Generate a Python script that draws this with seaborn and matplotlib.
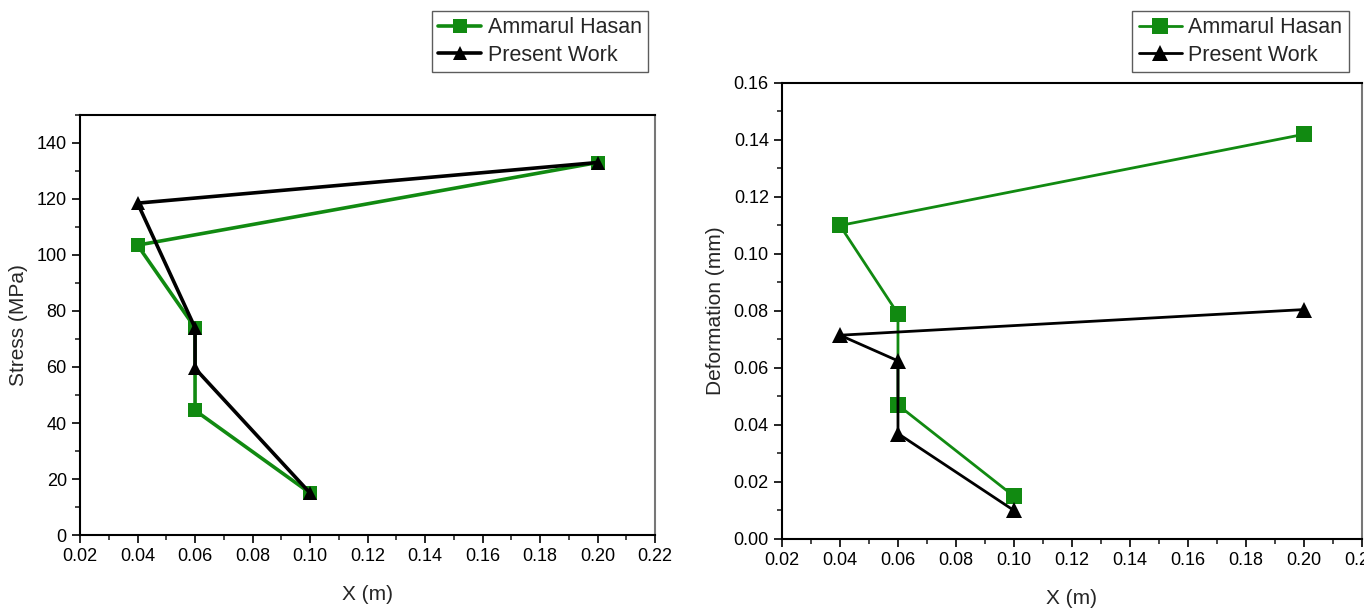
import pandas as pd
import matplotlib.pyplot as plt
import seaborn as sns
from matplotlib.ticker import MultipleLocator, AutoMinorLocator

x = [0.20, 0.04, 0.06, 0.06, 0.10]
stress_hasan = [133, 103.5, 74, 44.5, 15]
stress_present = [133, 118.5, 74, 59.5, 15]
def_hasan = [0.142, 0.110, 0.079, 0.047, 0.015]
def_present = [0.0805, 0.0715, 0.0625, 0.037, 0.010]
series_names = ["Ammarul Hasan", "Present Work"]

sns.set_style("ticks")
plt.rcParams['font.family'] = ['Liberation Sans', 'DejaVu Sans']

def long_table(a, b):
    return pd.DataFrame({
        'x': x + x,
        'y': a + b,
        'series': [series_names[0]] * len(x) + [series_names[1]] * len(x),
    })

palette = {series_names[0]: '#118a11', series_names[1]: 'black'}
markers = {series_names[0]: 's', series_names[1]: '^'}

fig = plt.figure(figsize=(13.64, 6.08), dpi=100)
ax1 = fig.add_axes([0.0587, 0.120, 0.4215, 0.691])
ax2 = fig.add_axes([0.5733, 0.1135, 0.4252, 0.750])

# axes, data, y label, y range, y step, line width, marker size, legend x (figure fraction)
panels = [
    (ax1, long_table(stress_hasan, stress_present), "Stress (MPa)", (0, 150), 20, 2.6, 10, 0.3167),
    (ax2, long_table(def_hasan, def_present), "Deformation (mm)", (0, 0.16), 0.02, 2.0, 11, 0.8300),
]

for ax, df, ylabel, ylim, ystep, lw, ms, legx in panels:
    sns.lineplot(data=df, x='x', y='y', hue='series', style='series',
                 palette=palette, markers=markers, dashes=False,
                 sort=False, estimator=None, linewidth=lw,
                 markersize=ms, markeredgewidth=0, ax=ax)
    ax.set_xlim(0.02, 0.22)
    ax.set_ylim(*ylim)
    ax.xaxis.set_major_locator(MultipleLocator(0.02))
    ax.yaxis.set_major_locator(MultipleLocator(ystep))
    ax.xaxis.set_minor_locator(AutoMinorLocator(2))
    ax.yaxis.set_minor_locator(AutoMinorLocator(2))
    ax.xaxis.set_major_formatter(plt.FuncFormatter(lambda v, p: f"{v:.2f}"))
    if ystep < 1:
        ax.yaxis.set_major_formatter(plt.FuncFormatter(lambda v, p: f"{v:.2f}"))
    ax.tick_params(which='major', direction='out', length=6, width=1.2, labelsize=13, colors='black')
    ax.tick_params(which='minor', direction='out', length=3.5, width=1.2)
    ax.set_xlabel("X (m)", fontsize=15, labelpad=14)
    ax.set_ylabel(ylabel, fontsize=15, labelpad=6)
    for side in ['left', 'bottom', 'top']:
        ax.spines[side].set_linewidth(1.5)
        ax.spines[side].set_color('black')
    ax.spines['right'].set_linewidth(1.5)
    ax.spines['right'].set_color('#777777')
    handles, labels = ax.get_legend_handles_labels()
    ax.legend(handles=handles, labels=labels, loc='upper left',
              bbox_to_anchor=(legx, 0.982), bbox_transform=fig.transFigure,
              fontsize=15.5, frameon=True, fancybox=False, edgecolor='#333333',
              handlelength=2.0, handletextpad=0.3, borderpad=0.3,
              labelspacing=0.3, borderaxespad=0)

fig.savefig("out.png", dpi=100)
